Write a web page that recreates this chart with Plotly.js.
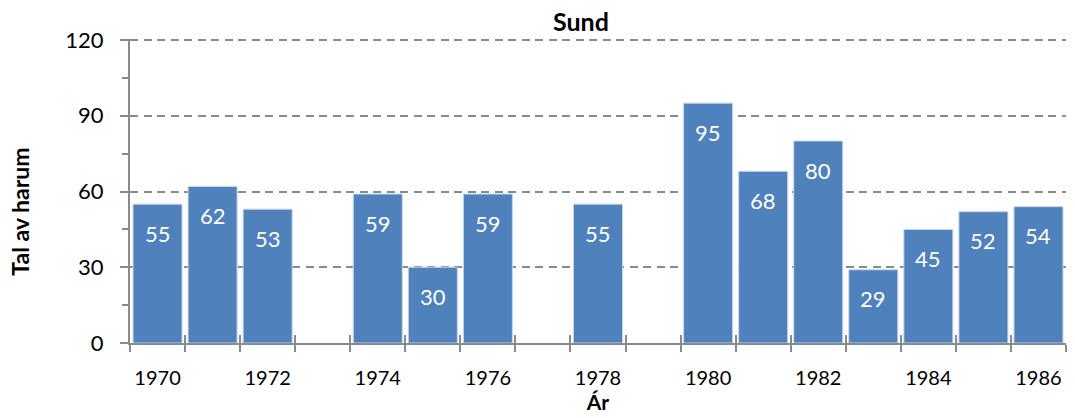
<!DOCTYPE html>
<html>
<head>
<meta charset="utf-8">
<script src="https://cdn.plot.ly/plotly-3.0.1.min.js"></script>
<style>html,body{margin:0;padding:0;background:#fff;}#chart{width:1075px;height:418px;}</style>
</head>
<body>
<div id="chart"></div>
<script>
const years = [1970,1971,1972,1973,1974,1975,1976,1977,1978,1979,1980,1981,1982,1983,1984,1985,1986];
const hares = [55,62,53,null,59,30,59,null,55,null,95,68,80,29,45,52,54];
const xTickYears = [1970,1972,1974,1976,1978,1980,1982,1984,1986];
const yTicks = [0,30,60,90,120];

const FONT = "Lato, 'Open Sans', sans-serif";
const AXC = '#8a8a8a';

const trace = {
  type: 'bar',
  x: years,
  y: hares,
  width: 0.89,
  marker: {color: '#4F81BD', line: {color: '#c6d6ea', width: 1}},
  hoverinfo: 'x+y'
};

const labels = years.map((yr, i) => hares[i] == null ? null : ({
  x: yr, y: hares[i], xref: 'x', yref: 'y', text: String(hares[i]),
  showarrow: false, yanchor: 'middle', yshift: -29,
  font: {family: FONT, size: 22, color: '#ffffff'}
})).filter(a => a);

labels.push({
  xref: 'paper', yref: 'paper', x: -0.1175, y: 0.432,
  text: '<b>Tal av harum</b>', textangle: -90, showarrow: false,
  xanchor: 'center', yanchor: 'middle',
  font: {family: FONT, size: 23, color: '#000'}
});

const layout = {
  width: 1075, height: 418,
  margin: {l: 130, r: 9, t: 39, b: 75},
  paper_bgcolor: '#fff', plot_bgcolor: '#fff',
  showlegend: false,
  title: {text: '<b>Sund</b>', x: 0.4818, xanchor: 'center', xref: 'paper', y: 0.947, yanchor: 'middle',
          font: {family: FONT, size: 25, color: '#000'}},
  xaxis: {
    range: [1969.5, 1986.5],
    tickmode: 'array', tickvals: xTickYears, ticktext: xTickYears.map(String),
    ticks: '', ticklabelstandoff: 16,
    tickfont: {family: FONT, size: 20, color: '#000'},
    showline: true, linecolor: AXC, linewidth: 2,
    showgrid: false, zeroline: false,
    minor: {tick0: 1969.5, dtick: 1, ticks: 'outside', ticklen: 7, tickcolor: AXC, tickwidth: 2, showgrid: false},
    title: {text: '<b>Ár</b>', standoff: 0, font: {family: FONT, size: 21, color: '#000'}},
    fixedrange: true
  },
  xaxis2: {
    overlaying: 'x', range: [1969.5, 1986.5], showticklabels: false,
    tickmode: 'linear', tick0: 1969.5, dtick: 1, ticks: 'inside', ticklen: 8, tickcolor: AXC, tickwidth: 2,
    showgrid: false, zeroline: false, showline: false, anchor: 'y'
  },
  yaxis: {
    range: [0, 120.4],
    tickmode: 'array', tickvals: yTicks,
    ticks: 'outside', ticklen: 8, tickcolor: AXC, tickwidth: 2,
    ticklabelstandoff: 12,
    tickfont: {family: FONT, size: 22, color: '#000'},
    showline: true, linecolor: AXC, linewidth: 2,
    showgrid: true, gridcolor: AXC, gridwidth: 2, griddash: '8px,5.5px',
    zeroline: false,
    minor: {tickmode: 'array', tickvals: [15,45,75,105], ticks: 'outside', ticklen: 6, tickcolor: AXC, tickwidth: 2, showgrid: false},
    fixedrange: true
  },
  annotations: labels
};

const dummy = {type: 'scatter', x: [1970], y: [null], xaxis: 'x2', yaxis: 'y', hoverinfo: 'skip', showlegend: false};

Plotly.newPlot('chart', [trace, dummy], layout, {displayModeBar: false, staticPlot: true});
</script>
</body>
</html>
